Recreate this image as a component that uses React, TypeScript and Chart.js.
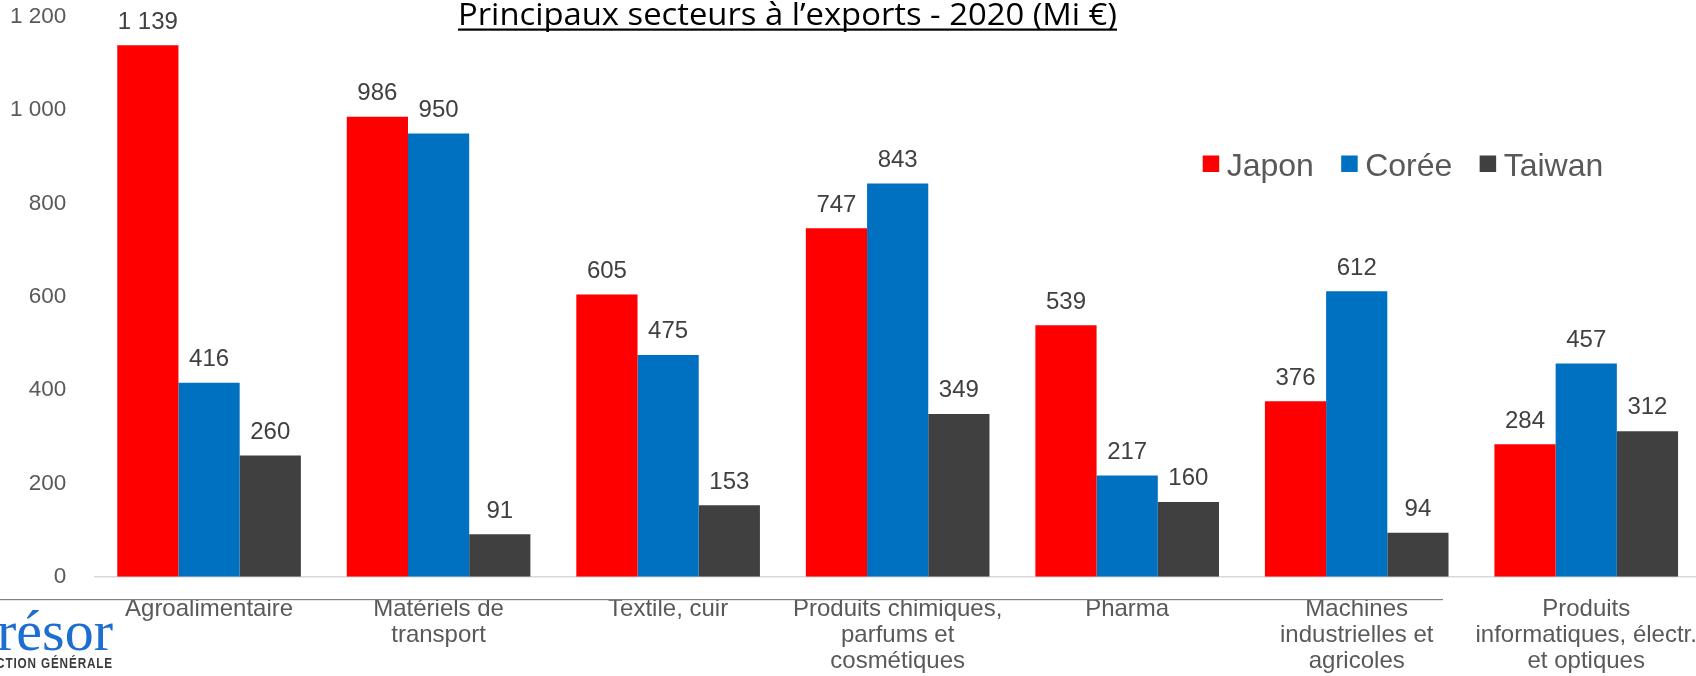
import React, { useEffect, useRef } from 'react';
import { Chart, registerables } from 'chart.js';

Chart.register(...registerables);

const categories: (string | string[])[] = [
  'Agroalimentaire',
  ['Matériels de', 'transport'],
  'Textile, cuir',
  ['Produits chimiques,', 'parfums et', 'cosmétiques'],
  'Pharma',
  ['Machines', 'industrielles et', 'agricoles'],
  ['Produits', 'informatiques, électr.', 'et optiques'],
];
const seriesNames = ['Japon', 'Corée', 'Taiwan'];
const seriesColors = ['#ff0000', '#0070c0', '#404040'];
const japon = [1139, 986, 605, 747, 539, 376, 284];
const coree = [416, 950, 475, 843, 217, 612, 457];
const taiwan = [260, 91, 153, 349, 160, 94, 312];
const yMin = 0;
const yMax = 1200;
const yStep = 200;
const titleText = 'Principaux secteurs à l’exports - 2020 (Mi €)';
const logoText = 'Trésor';
const logoSubText = 'DIRECTION GÉNÉRALE';

const fmt = (v: number) => String(Math.round(v)).replace(/\B(?=(\d{3})+(?!\d))/g, ' ');

const dataLabelsPlugin = {
  id: 'dataLabels',
  afterDatasetsDraw(chart: any) {
    const ctx = chart.ctx;
    ctx.save();
    ctx.font = '24px "Liberation Sans", Arial, sans-serif';
    ctx.fillStyle = '#404040';
    ctx.textAlign = 'center';
    ctx.textBaseline = 'alphabetic';
    chart.data.datasets.forEach((ds: any, i: number) => {
      const meta = chart.getDatasetMeta(i);
      meta.data.forEach((bar: any, j: number) => {
        ctx.fillText(fmt(ds.data[j]), bar.x, bar.y - 16.7);
      });
    });
    ctx.restore();
  },
};

const decorPlugin = {
  id: 'decor',
  afterDraw(chart: any) {
    const ctx = chart.ctx;
    ctx.save();
    // legend
    let x = 1202.7;
    ctx.font = '32px "Liberation Sans", Arial, sans-serif';
    ctx.textBaseline = 'alphabetic';
    ctx.textAlign = 'left';
    chart.data.datasets.forEach((ds: any) => {
      ctx.fillStyle = ds.backgroundColor;
      ctx.fillRect(x, 155.5, 16.5, 16.5);
      x += 24;
      ctx.fillStyle = '#595959';
      ctx.fillText(ds.label, x, 175.5);
      x += ctx.measureText(ds.label).width + 27.3;
    });
    // title
    ctx.font = '31px "Open Sans", "Noto Sans", sans-serif';
    const w = ctx.measureText(titleText).width;
    ctx.save();
    ctx.translate(458, 24.5);
    ctx.scale(659 / w, 1);
    ctx.fillStyle = '#000';
    ctx.fillText(titleText, 0, 0);
    ctx.restore();
    ctx.fillStyle = '#000';
    ctx.fillRect(458, 28.5, 659, 2.2);
    // slide line
    ctx.fillStyle = '#808080';
    ctx.fillRect(0, 599, 1443, 1.2);
    // logo
    ctx.textAlign = 'right';
    ctx.fillStyle = '#1c6ed0';
    ctx.font = '58px "Liberation Serif", "DejaVu Serif", serif';
    ctx.fillText(logoText, 113, 650);
    ctx.fillStyle = '#3a3a3a';
    ctx.font = 'bold 14px "Liberation Sans", Arial, sans-serif';
    (ctx as any).letterSpacing = '1px';
    ctx.save();
    ctx.translate(113, 667.5);
    ctx.scale(0.84, 1);
    ctx.fillText(logoSubText, 0, 0);
    ctx.restore();
    ctx.restore();
  },
};

export default function App() {
  const ref = useRef<HTMLCanvasElement | null>(null);
  useEffect(() => {
    if (!ref.current) return;
    const data = [japon, coree, taiwan];
    const chart = new Chart(ref.current, {
      type: 'bar',
      data: {
        labels: categories as any,
        datasets: seriesNames.map((name, i) => ({
          label: name,
          data: data[i],
          backgroundColor: seriesColors[i],
          borderWidth: 0,
          categoryPercentage: 0.8,
          barPercentage: 1.0,
        })),
      },
      options: {
        responsive: false,
        animation: false,
        layout: { padding: { top: 16.9, left: 0, right: 0, bottom: 0 } },
        plugins: {
          legend: { display: false },
          title: { display: false },
          tooltip: { enabled: false },
        },
        scales: {
          x: {
            grid: { display: false, drawTicks: false },
            border: { display: true, color: '#d9d9d9', width: 1.5 },
            ticks: {
              color: '#595959',
              font: { family: '"Liberation Sans", Arial, sans-serif', size: 24, lineHeight: 1.1 },
              padding: 19,
              maxRotation: 0,
              minRotation: 0,
              autoSkip: false,
            },
            afterFit: (s: any) => {
              s.height = 99.3;
              s.paddingLeft = 0;
              s.paddingRight = 0;
            },
          },
          y: {
            min: yMin,
            max: yMax,
            grid: { display: false, drawTicks: false },
            border: { display: false },
            ticks: {
              stepSize: yStep,
              color: '#595959',
              font: { family: '"Liberation Sans", Arial, sans-serif', size: 22.5 },
              padding: 28,
              callback: (v: any) => fmt(Number(v)),
            },
            afterFit: (s: any) => {
              s.width = 94.3;
              s.paddingTop = 0;
              s.paddingBottom = 0;
            },
          },
        },
      },
      plugins: [dataLabelsPlugin, decorPlugin],
    });
    return () => chart.destroy();
  }, []);
  return (
    <div
      style={{
        position: 'fixed',
        left: 0,
        top: 0,
        width: 1696,
        height: 676,
        overflow: 'hidden',
        background: '#fff',
      }}
    >
      <canvas ref={ref} width={1701} height={676} style={{ display: 'block' }} />
    </div>
  );
}
